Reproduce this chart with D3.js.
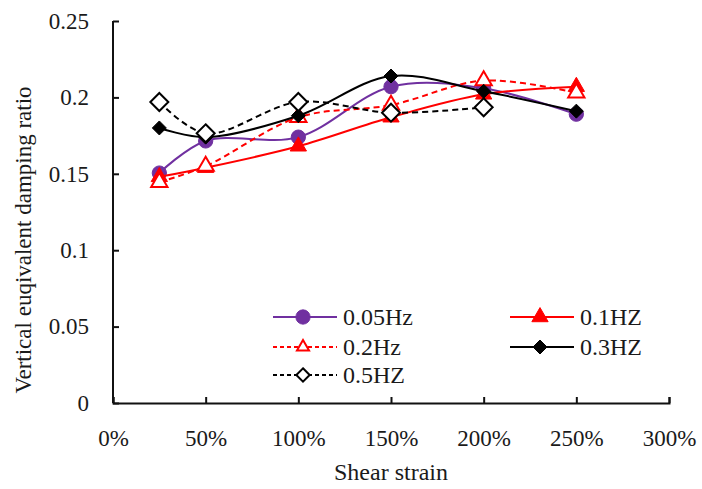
<!DOCTYPE html>
<html><head><meta charset="utf-8">
<script src="https://cdn.jsdelivr.net/npm/d3@7"></script>
<style>body{margin:0;background:#fff}svg{display:block}text{font-family:"Liberation Serif","Times New Roman",serif;fill:#1a1a1a}</style>
</head><body>
<svg id="c" width="702" height="489"></svg>
<script>
const strains = [0.25, 0.5, 1.0, 1.5, 2.0, 2.5];
const s005 = [0.1505, 0.1715, 0.174, 0.207, 0.206, 0.189];
const s01  = [0.148, 0.154, 0.168, 0.187, 0.202, 0.207];
const s02  = [0.1445, 0.155, 0.187, 0.195, 0.211, 0.203];
const s03  = [0.180, 0.174, 0.188, 0.214, 0.204, 0.191];
const s05  = [0.197, 0.1765, 0.197, 0.190, 0.1935];
const xTicks = [0, 0.5, 1, 1.5, 2, 2.5, 3];
const yTicks = [0, 0.05, 0.1, 0.15, 0.2, 0.25];
const seriesNames = ["0.05Hz", "0.1HZ", "0.2Hz", "0.3HZ", "0.5HZ"];

const series = [
  {name: seriesNames[0], vals: s005, color: "#7030A0", dash: null, marker: "circle", fill: true},
  {name: seriesNames[1], vals: s01, color: "#FF0000", dash: null, marker: "triangle", fill: true},
  {name: seriesNames[2], vals: s02, color: "#FF0000", dash: "6,4", marker: "triangle", fill: false},
  {name: seriesNames[3], vals: s03, color: "#000000", dash: null, marker: "diamond", fill: true},
  {name: seriesNames[4], vals: s05, color: "#000000", dash: "6,4", marker: "diamond", fill: false}
];

const svg = d3.select("#c");
const x = d3.scaleLinear().domain([0, 3]).range([113, 669]);
const y = d3.scaleLinear().domain([0, 0.25]).range([403, 21]);

// axes
const gx = svg.append("g").attr("transform", "translate(0,403)")
  .call(d3.axisBottom(x).tickValues(xTicks).tickSize(-6).tickSizeOuter(-6).tickPadding(27)
    .tickFormat(d => Math.round(d * 100) + "%"));
const gy = svg.append("g").attr("transform", "translate(113,0)")
  .call(d3.axisLeft(y).tickValues(yTicks).tickSize(-6).tickSizeOuter(0).tickPadding(24)
    .tickFormat(d => d === 0 ? "0" : String(+d.toFixed(2))));
[gx, gy].forEach(g => {
  g.select(".domain").attr("stroke", "#111").attr("stroke-width", 2);
  g.selectAll(".tick line").attr("stroke", "#111").attr("stroke-width", 2);
  g.selectAll("text").attr("font-size", 23).attr("font-family", "Liberation Serif").attr("fill", "#1a1a1a");
});
gy.select(".domain").attr("d", "M0," + y(0) + "V" + y(0.25));

// titles
svg.append("text").attr("x", 391).attr("y", 480).attr("text-anchor", "middle")
  .attr("font-size", 24).text("Shear strain");
svg.append("text").attr("transform", "translate(31,240) rotate(-90)").attr("text-anchor", "middle")
  .attr("font-size", 23).text("Vertical euqivalent damping ratio");

function markerPath(s, k) {
  if (s.marker === "circle") return d3.symbol().type(d3.symbolCircle).size(160 * k)();
  if (s.marker === "triangle") return d3.symbol().type(d3.symbolTriangle).size(115 * k)();
  const r = (s.fill ? 7 : 9) * Math.sqrt(k);
  return `M0,${-r}L${r},0L0,${r}L${-r},0Z`;
}
function drawMarker(g, s, cx, cy, k) {
  g.append("path").attr("d", markerPath(s, k || 1))
    .attr("transform", `translate(${cx},${cy})`)
    .attr("fill", s.fill ? s.color : "#fff")
    .attr("stroke", s.color).attr("stroke-width", s.fill ? 1 : 2);
}

const line = d3.line().x(d => x(d[0])).y(d => y(d[1])).curve(d3.curveCatmullRom.alpha(0.5));
series.forEach(s => {
  const pts = s.vals.map((v, i) => [strains[i], v]);
  const g = svg.append("g");
  g.append("path").attr("d", line(pts)).attr("fill", "none").attr("stroke", s.color)
    .attr("stroke-width", 2).attr("stroke-dasharray", s.dash);
  pts.forEach(p => drawMarker(g, s, x(p[0]), y(p[1])));
});

// legend
const legPos = [[273, 317], [510, 317], [273, 347], [510, 347], [273, 375]];
series.forEach((s, i) => {
  const [lx, ly] = legPos[i];
  const g = svg.append("g");
  g.append("line").attr("x1", lx).attr("x2", lx + 64).attr("y1", ly).attr("y2", ly)
    .attr("stroke", s.color).attr("stroke-width", 2).attr("stroke-dasharray", s.dash ? "4,3" : null);
  drawMarker(g, s, lx + 30, ly, s.fill ? 1 : 0.55);
  g.append("text").attr("x", lx + 70).attr("y", ly).attr("dy", "0.35em")
    .attr("font-size", 24).text(s.name);
});
</script>
</body></html>
